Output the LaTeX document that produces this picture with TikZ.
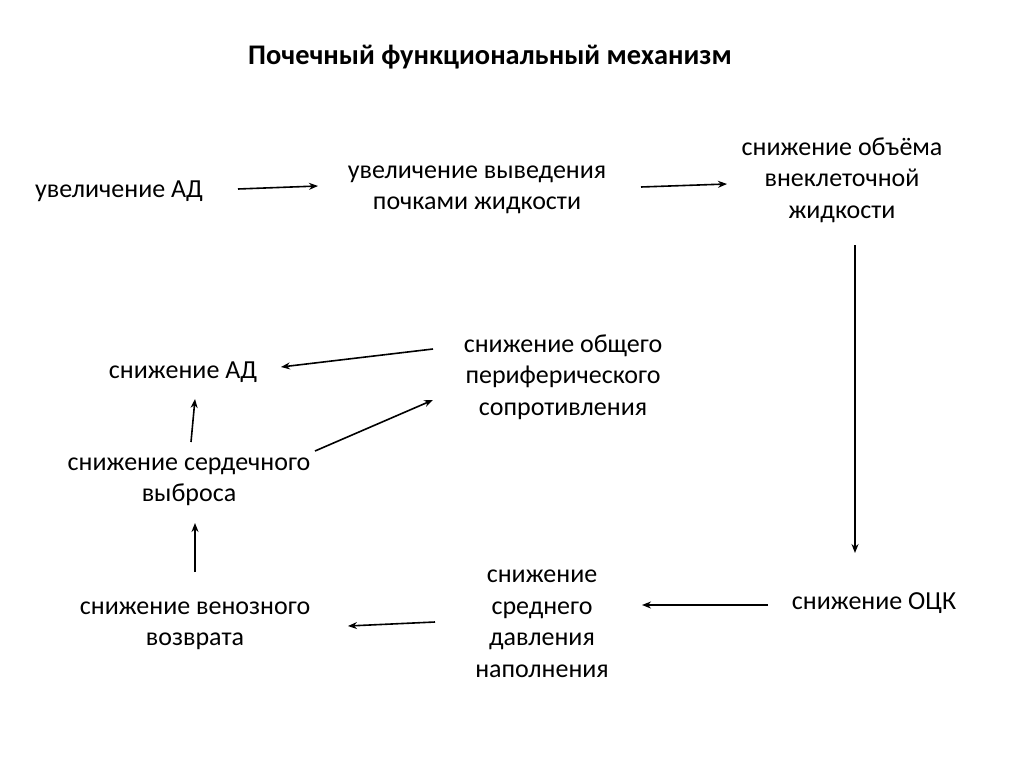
\documentclass[tikz,border=0pt]{standalone}
\usepackage{fontspec}
\setmainfont{Carlito}
\usetikzlibrary{arrows.meta}
\tikzset{
  step text/.style={align=center,font=\fontsize{26}{31.5}\selectfont},
  link/.style={-{Stealth[length=9pt,width=7pt]},line width=1.6pt}
}

\begin{document}
\begin{tikzpicture}[x=1pt,y=-1pt]
\useasboundingbox (0,0) rectangle (1024,767);
% TITLE
\node [font=\fontsize{28.4}{34}\selectfont\bfseries] (title) at (490,57) {Почечный функциональный механизм};
% TOP ROW
\node [step text] (riseAD) at (119,191) {увеличение АД};
\node [step text] (output) at (477,190) {увеличение выведения\\почками жидкости};
\node [step text] (volume) at (842,180) {снижение объёма\\внеклеточной\\жидкости};
% MIDDLE
\node [step text] (fallAD) at (183,372) {снижение АД};
\node [step text] (resist) at (563,377) {снижение общего\\периферического\\сопротивления};
\node [step text] (cardiac) at (189,482) {снижение сердечного\\выброса};
% BOTTOM ROW
\node [step text] (venous) at (195,626) {снижение венозного\\возврата};
\node [step text] (filling) at (542,624) {снижение\\среднего\\давления\\наполнения};
\node [step text] (bcv) at (874,603) {снижение ОЦК};
% ARROW ENDS
\coordinate (a1) at (238,189); \coordinate (b1) at (318,186);
\coordinate (a2) at (641,187); \coordinate (b2) at (727,184);
\coordinate (a3) at (855,245); \coordinate (b3) at (855,553);
\coordinate (a4) at (768,605); \coordinate (b4) at (642,605);
\coordinate (a5) at (435,622); \coordinate (b5) at (348,626);
\coordinate (a6) at (195,572); \coordinate (b6) at (195,523);
\coordinate (a7) at (191,442); \coordinate (b7) at (195,399);
\coordinate (a8) at (433,349); \coordinate (b8) at (281,367);
\coordinate (a9) at (315,451); \coordinate (b9) at (433,400);
% ARROWS
\foreach \i in {1,...,9}
  \draw [link] (a\i) -- (b\i);
\end{tikzpicture}
\end{document}
